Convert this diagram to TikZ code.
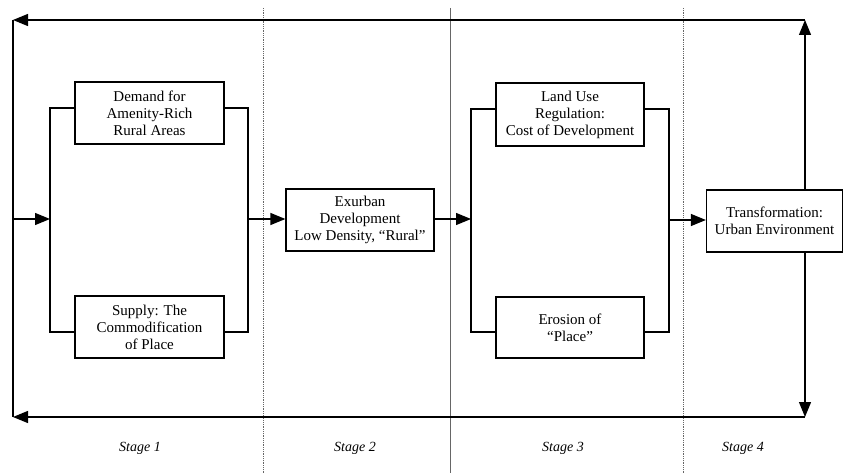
\documentclass[tikz,border=0pt]{standalone}
\usepackage{fontspec}
\setmainfont{Liberation Serif}
\usetikzlibrary{arrows.meta}
\begin{document}
\begin{tikzpicture}[x=1pt,y=-1pt,
  ln/.style={line width=1.25pt, line join=miter},
  arr/.style={ln, -{Triangle[length=15pt,width=12pt]}},
  sep/.style={line width=0.8pt, black!60},
  sepdot/.style={sep, densely dotted},
  box/.style={draw, line width=1.25pt, align=center, inner sep=0pt,
    font=\fontsize{15}{17}\selectfont},
  stagelab/.style={font=\fontsize{14}{16}\selectfont\itshape}]
\useasboundingbox (0,0) rectangle (843,473);
% stage separators
\draw[sepdot] (263,8) -- (263,473);
\draw[sep] (450,8) -- (450,473);
\draw[sepdot] (683,8) -- (683,473);
% boxes
\node[box, minimum width=149pt, minimum height=62pt] (D) at (149.5,113) {Demand for\\Amenity-Rich\\Rural Areas};
\node[box, minimum width=149pt, minimum height=62pt] (S) at (149.5,327) {Supply: The\\Commodification\\of Place};
\node[box, minimum width=148pt, minimum height=62pt] (E) at (360,220) {Exurban\\Development\\Low Density, “Rural”};
\node[box, minimum width=148pt, minimum height=63pt] (L) at (570,114.5) {Land Use\\Regulation:\\Cost of Development};
\node[box, minimum width=148pt, minimum height=61pt] (R) at (570,327.5) {Erosion of\\“Place”};
\node[box, minimum width=136pt, minimum height=62pt] (T) at (774.5,221) {Transformation:\\Urban Environment};
% frame coordinates
\coordinate (tl) at (13,20);
\coordinate (tr) at (805,20);
\coordinate (bl) at (13,417);
\coordinate (br) at (805,417);
\coordinate (in1) at (13,219);
\coordinate (b1l) at (50,219);
\coordinate (b1r) at (248,219);
\coordinate (b3l) at (471,219);
\coordinate (b3r) at (669,220);
% stage 1 bracket
\draw[ln] (D.west|-0,108) -| (50,332) -- (S.west|-0,332);
\draw[ln] (D.east|-0,108) -| (248,332) -- (S.east|-0,332);
% stage 3 bracket
\draw[ln] (L.west|-0,109) -| (471,332) -- (R.west|-0,332);
\draw[ln] (L.east|-0,109) -| (669,332) -- (R.east|-0,332);
% flow arrows
\draw[arr] (in1) -- (b1l);
\draw[arr] (b1r) -- (E.west|-b1r);
\draw[arr] (E.east|-b3l) -- (b3l);
\draw[arr] (b3r) -- (T.west|-b3r);
% feedback loops
\draw[arr] (T.north-|tr) -- (tr);
\draw[arr] (tr) -- (tl);
\draw[ln] (tl) -- (bl);
\draw[arr] (T.south-|br) -- (br);
\draw[arr] (br) -- (bl);
% stage labels
\node[stagelab] (s1) at (140,448) {Stage 1};
\node[stagelab] (s2) at (355,448) {Stage 2};
\node[stagelab] (s3) at (563,448) {Stage 3};
\node[stagelab] (s4) at (743,448) {Stage 4};
\end{tikzpicture}
\end{document}
